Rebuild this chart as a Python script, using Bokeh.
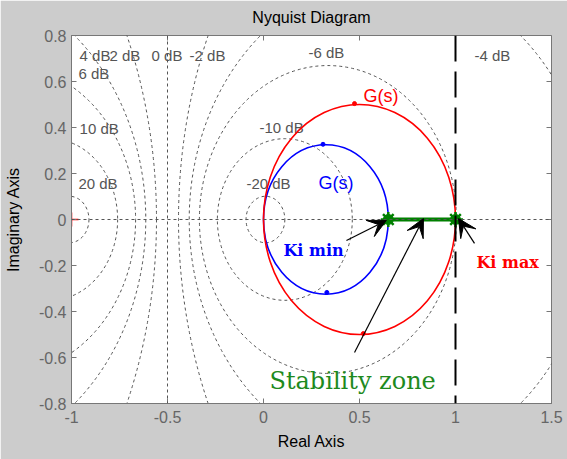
import numpy as np
from bokeh.plotting import figure
from bokeh.models import (Range1d, FixedTicker, Title, Label, Arrow,
                          VeeHead, Span, ColumnDataSource)
from bokeh.core.properties import value
from bokeh.embed import file_html
from bokeh.resources import INLINE

# ---------------- data ----------------
x_ticks = [-1, -0.5, 0, 0.5, 1, 1.5]
x_tick_labels = ["-1", "-0.5", "0", "0.5", "1", "1.5"]
y_ticks = [-0.8, -0.6, -0.4, -0.2, 0, 0.2, 0.4, 0.6, 0.8]
y_tick_labels = ["-0.8", "-0.6", "-0.4", "-0.2", "0", "0.2", "0.4", "0.6", "0.8"]

# constant-gain (M) circles of the Nyquist grid, in dB (0 dB is a straight line)
grid_db = [-20, -10, -6, -4, -2, 2, 4, 6, 10, 20]
grid_label_text = ["4 dB", "2 dB", "0 dB", "-2 dB", "6 dB", "10 dB", "20 dB",
                   "-10 dB", "-20 dB", "-6 dB", "-4 dB"]
grid_label_x = [-0.958, -0.802, -0.583, -0.385, -0.964, -0.958, -0.964,
                -0.021, -0.089, 0.234, 1.099]
grid_label_y = [0.713, 0.713, 0.713, 0.713, 0.635, 0.396, 0.157,
                0.400, 0.157, 0.726, 0.713]

# Nyquist loci of G(s): circles centred on the real axis
locus_center = [0.325, 0.5]     # blue (Ki min), red (Ki max)
locus_radius = [0.325, 0.5]
locus_color = ["#0000ff", "#ff0000"]

# direction markers on the loci
blue_mark_x = [0.31, 0.33]
blue_mark_y = [0.327, -0.317]
red_mark_x = [0.474, 0.52]
red_mark_y = [0.504, -0.496]

# stability zone on the real axis
ki_min = 0.65
ki_max = 1.0

# annotation arrows: tail -> tip
arrow_x0 = [0.432, 0.474, 1.099]
arrow_y0 = [-0.091, -0.578, -0.104]
arrow_x1 = [0.640, 0.833, 1.016]
arrow_y1 = [-0.004, 0.004, 0.004]

# ---------------- figure ----------------
SANS = "Liberation Sans"
SERIF = "DejaVu Serif"
X0, X1 = x_ticks[0], x_ticks[-1]
Y0, Y1 = y_ticks[0], y_ticks[-1]

p = figure(width=567, height=459, x_range=Range1d(X0, X1), y_range=Range1d(Y0, Y1),
           output_backend="svg", toolbar_location=None,
           min_border_left=71, min_border_right=16, min_border_top=35, min_border_bottom=56)
p.border_fill_color = "#cccccc"
p.background_fill_color = "white"
p.outline_line_color = "#777777"
p.grid.visible = False

xax = p.xaxis[0]
yax = p.yaxis[0]
xax.ticker = FixedTicker(ticks=x_ticks)
xax.major_label_overrides = {float(t): s for t, s in zip(x_ticks, x_tick_labels)}
yax.ticker = FixedTicker(ticks=y_ticks)
yax.major_label_overrides = {float(t): s for t, s in zip(y_ticks, y_tick_labels)}

for ax in [xax, yax]:
    ax.major_tick_in = 5
    ax.major_tick_out = 0
    ax.minor_tick_in = 0
    ax.minor_tick_out = 0
    ax.axis_line_color = "#777777"
    ax.major_tick_line_color = "#777777"
    ax.major_label_text_font = SANS
    ax.major_label_text_color = "#666666"
    ax.major_label_text_font_size = "16px"

xax.major_label_standoff = 7
yax.major_label_standoff = 5
yax.axis_label = "Imaginary Axis"
yax.axis_label_text_font = SANS
yax.axis_label_text_font_size = "16px"
yax.axis_label_text_font_style = "normal"
yax.axis_label_text_color = "black"
yax.axis_label_standoff = 14

p.title.text = "Nyquist Diagram"
p.title.align = "center"
p.title.offset = -20
p.title.standoff = 15
p.title.vertical_align = "top"
p.title.text_font = SANS
p.title.text_font_size = "16px"
p.title.text_font_style = "normal"
p.title.text_color = "black"

p.add_layout(Title(text="Real Axis", align="center", offset=-20, text_font=SANS,
                   text_font_size="16px", text_font_style="normal", text_color="black",
                   standoff=11, vertical_align="bottom"), "below")

# box ticks on top and right edges (half of each dash is clipped by the frame)
p.scatter(x=x_ticks, y=[Y1] * len(x_ticks), marker="dash", size=10, angle=np.pi / 2,
          line_color="#777777", line_width=1)
p.scatter(x=[X1] * len(y_ticks), y=y_ticks, marker="dash", size=10,
          line_color="#777777", line_width=1)

# ---------------- Nyquist grid ----------------
db = np.array(grid_db, dtype=float)
M = 10 ** (db / 20.0)
cx = -M ** 2 / (M ** 2 - 1)
rr = np.abs(M / (M ** 2 - 1))
grid_src = ColumnDataSource(dict(x=cx, y=np.zeros_like(cx), w=2 * rr, h=2 * rr))
p.ellipse(x="x", y="y", width="w", height="h", source=grid_src, fill_color=None,
          line_color="#555555", line_width=1, line_dash="3 3")
p.add_layout(Span(location=-0.5, dimension="height", line_color="#555555",
                  line_width=1, line_dash="3 3"))
p.add_layout(Span(location=0, dimension="width", line_color="#555555",
                  line_width=1, line_dash="3 3"))

lab_src = ColumnDataSource(dict(x=grid_label_x, y=grid_label_y, t=grid_label_text))
p.text(x="x", y="y", text="t", source=lab_src, text_font=value(SANS),
       text_font_size="15px", text_color="#555555", text_baseline="middle",
       text_align="left")

# critical point
p.scatter(x=[-1], y=[0], marker="cross", size=14, line_color="red", line_width=1.5)

# ---------------- loci ----------------
loc_src = ColumnDataSource(dict(x=locus_center, y=[0, 0], w=[2 * r for r in locus_radius],
                                h=[2 * r for r in locus_radius], c=locus_color))
p.ellipse(x="x", y="y", width="w", height="h", source=loc_src, fill_color=None,
          line_color="c", line_width=1.6)
p.scatter(x=blue_mark_x, y=blue_mark_y, marker="circle", size=4, color="#0000ff")
p.scatter(x=red_mark_x, y=red_mark_y, marker="circle", size=4, color="#ff0000")

# vertical dashed line at Ki max
p.add_layout(Span(location=ki_max, dimension="height", line_color="black",
                  line_width=2, line_dash="26 10"))

# stability zone segment
p.segment(x0=[ki_min], y0=[0], x1=[ki_max], y1=[0], line_color="#008000", line_width=4)
p.scatter(x=[ki_min, ki_max], y=[0, 0], marker="circle", size=10, color="#008000")
p.scatter(x=[ki_min, ki_max], y=[0, 0], marker="asterisk", size=15,
          line_color="#008000", line_width=2.5)

# arrows
arr_src = ColumnDataSource(dict(x0=arrow_x0, y0=arrow_y0, x1=arrow_x1, y1=arrow_y1))
p.add_layout(Arrow(end=VeeHead(size=18, fill_color="black", line_color="black"),
                   x_start="x0", y_start="y0", x_end="x1", y_end="y1", source=arr_src,
                   line_color="black", line_width=1.2))

# text labels
p.add_layout(Label(x=0.521, y=0.539, text="G(s)", text_font=SANS, text_font_size="18px",
                   text_color="#ff0000", text_baseline="alphabetic"))
p.add_layout(Label(x=0.286, y=0.157, text="G(s)", text_font=SANS, text_font_size="18px",
                   text_color="#0000ff", text_baseline="alphabetic"))
p.add_layout(Label(x=0.104, y=-0.135, text="Ki min", text_font=SERIF, text_font_size="16px",
                   text_font_style="bold", text_color="#0000ff", text_baseline="alphabetic"))
p.add_layout(Label(x=1.109, y=-0.187, text="Ki max", text_font=SERIF, text_font_size="16px",
                   text_font_style="bold", text_color="#ff0000", text_baseline="alphabetic"))
p.add_layout(Label(x=0.031, y=-0.70, text="Stability zone", text_font=SERIF,
                   text_font_size="24px", text_color="#1e8a1e", text_baseline="alphabetic"))

open("out.html", "w").write(file_html(p, INLINE))
